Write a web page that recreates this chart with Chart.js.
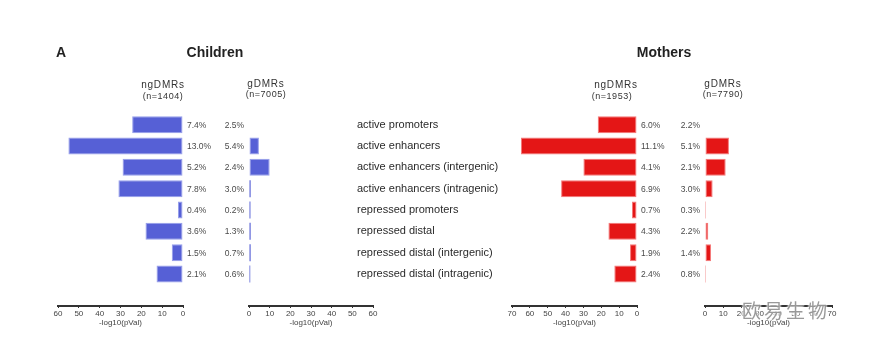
<!DOCTYPE html>
<html>
<head>
<meta charset="utf-8">
<script src="https://cdn.jsdelivr.net/npm/chart.js@4.4.0/dist/chart.umd.min.js"></script>
<style>
  html, body { margin: 0; padding: 0; background: #fff; }
  #wrap { position: relative; width: 891px; height: 355px; overflow: hidden; font-family: "Liberation Sans", Arial, sans-serif; }
  canvas { position: absolute; left: 0; top: 0; }
  .t { position: absolute; white-space: nowrap; color: #222; transform: translate(-50%, -50%); }
  .big { font-weight: bold; font-size: 14px; }
  .hdr { font-size: 10px; letter-spacing: 0.8px; color: #333; }
  .sub { font-size: 9px; letter-spacing: 0.5px; color: #333; }
  .wm { font-family: "Noto Sans CJK SC", sans-serif; font-size: 19px; letter-spacing: 3px; color: rgba(110,110,110,0.7);
        text-shadow: 0 0 2px #fff, 0 0 2px #fff, 0 0 3px #fff; }
</style>
</head>
<body>
<div id="wrap">
  <canvas id="cNg" width="891" height="355"></canvas>
  <canvas id="cG" width="891" height="355"></canvas>
  <canvas id="mNg" width="891" height="355"></canvas>
  <canvas id="mG" width="891" height="355"></canvas>

  <div class="t big" style="left:61px;top:52px;">A</div>
  <div class="t big" style="left:215px;top:52px;">Children</div>
  <div class="t big" style="left:664px;top:52px;">Mothers</div>

  <div class="t hdr" style="left:163px;top:84px;">ngDMRs</div>
  <div class="t sub" style="left:163px;top:96px;">(n=1404)</div>
  <div class="t hdr" style="left:266px;top:83px;">gDMRs</div>
  <div class="t sub" style="left:266px;top:94px;">(n=7005)</div>

  <div class="t hdr" style="left:616px;top:84px;">ngDMRs</div>
  <div class="t sub" style="left:612px;top:96px;">(n=1953)</div>
  <div class="t hdr" style="left:723px;top:83px;">gDMRs</div>
  <div class="t sub" style="left:723px;top:94px;">(n=7790)</div>

  <div class="t wm" style="left:786px;top:309px;">欧易生物</div>
</div>
<script>
// ---------------- data ----------------
const categories = [
  'active promoters',
  'active enhancers',
  'active enhancers (intergenic)',
  'active enhancers (intragenic)',
  'repressed promoters',
  'repressed distal',
  'repressed distal (intergenic)',
  'repressed distal (intragenic)'
];
// -log10(pVal)
const childrenNg = [24.4, 55, 29, 31, 2.4, 18, 5.4, 12.7];
const childrenG  = [0, 4.8, 10, 0.8, 0.7, 0.8, 0.8, 0.6];
const mothersNg  = [22, 65, 30, 42.5, 2.8, 16, 3.9, 12.7];
const mothersG   = [0, 13.2, 11.4, 4.2, 0.4, 1.8, 3.3, 0.4];
// percentages shown next to bars
const childrenNgPct = ['7.4%', '13.0%', '5.2%', '7.8%', '0.4%', '3.6%', '1.5%', '2.1%'];
const childrenGPct  = ['2.5%', '5.4%', '2.4%', '3.0%', '0.2%', '1.3%', '0.7%', '0.6%'];
const mothersNgPct  = ['6.0%', '11.1%', '4.1%', '6.9%', '0.7%', '4.3%', '1.9%', '2.4%'];
const mothersGPct   = ['2.2%', '5.1%', '2.1%', '3.0%', '0.3%', '2.2%', '1.4%', '0.8%'];
// axis ranges
const childrenAxisMax = 60;
const mothersAxisMax = 70;
const tickStep = 10;
const axisTitle = '-log10(pVal)';

// ---------------- rendering ----------------
Chart.defaults.font.family = '"Liberation Sans", Arial, sans-serif';
Chart.defaults.devicePixelRatio = 1;

const W = 891, H = 355;
const AREA_TOP = 114, AREA_BOTTOM = 306, XAXIS_H = 30;
const yLabels = categories.concat(['']); // empty slot = gap above the axis

const pctPlugin = {
  id: 'pct',
  afterDatasetsDraw(chart, args, opts) {
    if (!opts || !opts.labels) return;
    const ctx = chart.ctx;
    const xs = chart.scales.x, ys = chart.scales.y;
    const x0 = xs.getPixelForValue(0);
    ctx.save();
    ctx.font = '8.5px "Liberation Sans", Arial, sans-serif';
    ctx.fillStyle = '#4a4a4a';
    ctx.textBaseline = 'middle';
    ctx.textAlign = opts.side === 'right' ? 'left' : 'right';
    const dx = opts.side === 'right' ? 4 : -5;
    opts.labels.forEach((t, i) => {
      ctx.fillText(t, x0 + dx, ys.getPixelForValue(i) + 0.5);
    });
    ctx.restore();
  }
};

function makeChart(id, values, opt) {
  const showY = !!opt.showY;
  return new Chart(document.getElementById(id), {
    type: 'bar',
    data: {
      labels: yLabels,
      datasets: [{
        data: values,
        backgroundColor: opt.color,
        borderColor: opt.border,
        borderWidth: (c) => (c.raw !== undefined && c.raw < 1.5 ? 0 : 1),
        borderSkipped: false,
        categoryPercentage: 1,
        barPercentage: 0.8
      }]
    },
    plugins: [pctPlugin],
    options: {
      indexAxis: 'y',
      responsive: false,
      animation: false,
      events: [],
      layout: {
        padding: {
          left: showY ? opt.yLeft : opt.left,
          right: W - opt.right,
          top: AREA_TOP,
          bottom: H - AREA_BOTTOM - XAXIS_H
        }
      },
      plugins: {
        legend: { display: false },
        tooltip: { enabled: false },
        pct: { labels: opt.pct, side: opt.pctSide }
      },
      scales: {
        x: {
          type: 'linear',
          min: 0,
          max: opt.max,
          reverse: !!opt.reverse,
          afterFit(s) { s.height = XAXIS_H; },
          ticks: { stepSize: tickStep, font: { size: 8 }, color: '#444', padding: 1 },
          grid: { drawOnChartArea: false, tickLength: 2, color: '#333', lineWidth: 1 },
          border: { display: true, color: '#333', width: 2 },
          title: { display: true, text: axisTitle, font: { size: 8 }, color: '#444', padding: { top: 0, bottom: 8 } }
        },
        y: {
          type: 'category',
          display: showY,
          afterFit(s) { if (showY) s.width = opt.right - 125 - opt.yLeft; },
          grid: { display: false },
          border: { display: false },
          ticks: { crossAlign: 'far', font: { size: 11 }, color: '#2a2a2a', padding: 0, autoSkip: false }
        }
      }
    }
  });
}

const blue = 'rgb(86,96,214)', blueEdge = 'rgb(150,158,235)';
const red = 'rgb(228,22,22)', redEdge = 'rgb(245,120,120)';

makeChart('cNg', childrenNg, { left: 58, right: 183, max: childrenAxisMax, reverse: true,
  color: blue, border: blueEdge, pct: childrenNgPct, pctSide: 'right' });
makeChart('cG', childrenG, { left: 249, right: 373, max: childrenAxisMax,
  color: blue, border: blueEdge, pct: childrenGPct, pctSide: 'left' });
makeChart('mNg', mothersNg, { left: 512, right: 637, yLeft: 357, showY: true, max: mothersAxisMax, reverse: true,
  color: red, border: redEdge, pct: mothersNgPct, pctSide: 'right' });
makeChart('mG', mothersG, { left: 705, right: 832, max: mothersAxisMax,
  color: red, border: redEdge, pct: mothersGPct, pctSide: 'left' });
</script>
</body>
</html>
